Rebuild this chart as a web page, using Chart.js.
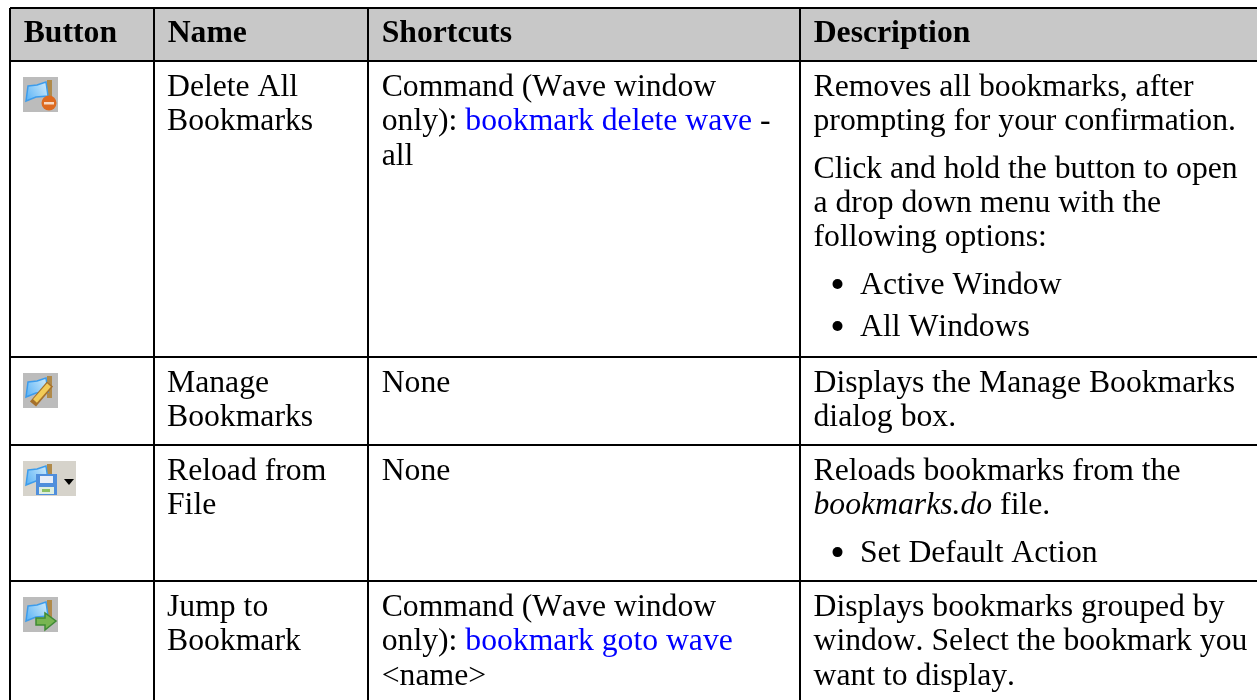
<!DOCTYPE html>
<html>
<head>
<meta charset="utf-8">
<title>Bookmark toolbar buttons</title>
<script src="https://cdn.jsdelivr.net/npm/chart.js@4/dist/chart.umd.js"></script>
<style>
  html, body { margin: 0; padding: 0; background: #fff; overflow: hidden; }
  canvas { display: block; }
</style>
</head>
<body>
<canvas id="table" width="1257" height="700"></canvas>
<script>
// table content. *x* = italic, [x] = link, "- " at line start = list item
var headers = ["Button", "Name", "Shortcuts", "Description"];
var icons = ["delete", "manage", "reload", "jump"];
var names = [
  ["Delete All", "Bookmarks"],
  ["Manage", "Bookmarks"],
  ["Reload from", "File"],
  ["Jump to", "Bookmark"]
];
var shortcuts = [
  ["Command (Wave window", "only): [bookmark delete wave] -", "all"],
  ["None"],
  ["None"],
  ["Command (Wave window", "only): [bookmark goto wave]", "<name>"]
];
var descriptions = [
  [["Removes all bookmarks, after", "prompting for your confirmation."],
   ["Click and hold the button to open", "a drop down menu with the", "following options:"],
   ["- Active Window"],
   ["- All Windows"]],
  [["Displays the Manage Bookmarks", "dialog box."]],
  [["Reloads bookmarks from the", "*bookmarks.do* file."],
   ["- Set Default Action"]],
  [["Displays bookmarks grouped by", "window. Select the bookmark you", "want to display."]]
];

// cell borders on the linear axes
var columnEdges = [0, 144, 358, 790];
var rowEdges = [0, 53, 349, 437, 573];
var tableWidth = 1247;
var tableHeight = 692;

var serif = '"Liberation Serif", "Times New Roman", serif';
var fontSize = 31.7;
var lineHeight = 34.3;

function drawRuns(ctx, line, x, y) {
  var parts = line.split(/(\*[^*]+\*|\[[^\]]+\])/);
  parts.forEach(function (part) {
    if (!part) return;
    var style = "", color = "#000", text = part;
    if (part[0] === "*") { style = "italic "; text = part.slice(1, -1); }
    if (part[0] === "[") { color = "#0000ff"; text = part.slice(1, -1); }
    ctx.font = style + fontSize + "px " + serif;
    ctx.fillStyle = color;
    ctx.fillText(text, x, y);
    x += ctx.measureText(text).width;
  });
}

function drawLines(ctx, lines, x, y) {
  lines.forEach(function (line, i) {
    drawRuns(ctx, line, x, y + i * lineHeight);
  });
}

function drawFlag(ctx, x, y) {
  // blue flag with brown pole, shared by all four icons
  ctx.fillStyle = "#b08a4a";
  ctx.fillRect(x + 24, y + 3, 5, 22);
  var g = ctx.createLinearGradient(x + 2, y + 20, x + 24, y + 6);
  g.addColorStop(0, "#5db4f6");
  g.addColorStop(1, "#cdeafb");
  ctx.beginPath();
  ctx.moveTo(x + 5, y + 9);
  ctx.lineTo(x + 14, y + 8);
  ctx.lineTo(x + 23, y + 5);
  ctx.lineTo(x + 25, y + 19);
  ctx.lineTo(x + 13, y + 20);
  ctx.lineTo(x + 3, y + 24);
  ctx.closePath();
  ctx.fillStyle = g;
  ctx.strokeStyle = "#3c9cec";
  ctx.lineWidth = 1.5;
  ctx.fill();
  ctx.stroke();
}

function drawIcon(ctx, kind, x, y) {
  var w = kind === "reload" ? 53 : 35;
  ctx.fillStyle = kind === "reload" ? "#d6d3cb" : "#bcbcbc";
  ctx.fillRect(x, y, w, 35);
  ctx.save();
  ctx.filter = "blur(0.7px)";
  drawFlag(ctx, x, y);
  if (kind === "delete") {
    ctx.beginPath();
    ctx.arc(x + 26, y + 26, 7.5, 0, Math.PI * 2);
    ctx.fillStyle = "#dd6a20";
    ctx.fill();
    ctx.fillStyle = "#f7d9c4";
    ctx.fillRect(x + 21, y + 25, 10, 2.5);
  }
  if (kind === "manage") {
    ctx.strokeStyle = "#a5702c";
    ctx.lineWidth = 8;
    ctx.beginPath();
    ctx.moveTo(x + 10, y + 31);
    ctx.lineTo(x + 27, y + 11);
    ctx.stroke();
    ctx.strokeStyle = "#f2cb58";
    ctx.lineWidth = 5;
    ctx.beginPath();
    ctx.moveTo(x + 12, y + 28);
    ctx.lineTo(x + 26, y + 12);
    ctx.stroke();
  }
  if (kind === "reload") {
    ctx.fillStyle = "#4f8edc";
    ctx.fillRect(x + 13, y + 13, 21, 21);
    ctx.fillStyle = "#e8eef8";
    ctx.fillRect(x + 17, y + 15, 13, 7);
    ctx.fillStyle = "#dfeee0";
    ctx.fillRect(x + 16, y + 26, 15, 7);
    ctx.fillStyle = "#8cc063";
    ctx.fillRect(x + 19, y + 28, 8, 3);
    ctx.fillStyle = "#000";
    ctx.beginPath();
    ctx.moveTo(x + 41, y + 18);
    ctx.lineTo(x + 51, y + 18);
    ctx.lineTo(x + 46, y + 24);
    ctx.closePath();
    ctx.fill();
  }
  if (kind === "jump") {
    ctx.fillStyle = "#78b552";
    ctx.strokeStyle = "#3f8a35";
    ctx.lineWidth = 1.5;
    ctx.beginPath();
    ctx.moveTo(x + 13, y + 21);
    ctx.lineTo(x + 22, y + 21);
    ctx.lineTo(x + 22, y + 16);
    ctx.lineTo(x + 33, y + 24);
    ctx.lineTo(x + 22, y + 33);
    ctx.lineTo(x + 22, y + 28);
    ctx.lineTo(x + 13, y + 28);
    ctx.closePath();
    ctx.fill();
    ctx.stroke();
  }
  ctx.restore();
}

var cellText = {
  id: "cellText",
  afterDraw: function (chart) {
    var ctx = chart.ctx, xs = chart.scales.x, ys = chart.scales.y;
    var colX = columnEdges.map(function (v) { return xs.getPixelForValue(v); });
    var rowY = rowEdges.map(function (v) { return ys.getPixelForValue(v); });
    ctx.save();
    ctx.textBaseline = "alphabetic";
    ctx.fontKerning = "none";

    ctx.fillStyle = "#000";
    ctx.font = "bold " + fontSize + "px " + serif;
    headers.forEach(function (h, c) {
      ctx.fillText(h, colX[c] + 13.7, rowY[0] + 33.5);
    });

    names.forEach(function (lines, r) {
      var top = rowY[r + 1];
      drawIcon(ctx, icons[r], colX[0] + 13, top + 16);
      drawLines(ctx, lines, colX[1] + 13, top + 35);
      drawLines(ctx, shortcuts[r], colX[2] + 13.7, top + 35);

      var y = top + 35;
      descriptions[r].forEach(function (para, p) {
        para.forEach(function (line, i) {
          if (line.indexOf("- ") === 0) {
            ctx.beginPath();
            ctx.arc(colX[3] + 37.5, y - 9.5, 5, 0, Math.PI * 2);
            ctx.fillStyle = "#000";
            ctx.fill();
            drawRuns(ctx, line.slice(2), colX[3] + 60, y);
          } else {
            drawRuns(ctx, line, colX[3] + 13.5, y);
          }
          y += lineHeight;
        });
        var next = descriptions[r][p + 1];
        if (next) {
          var bothList = para[0].indexOf("- ") === 0 && next[0].indexOf("- ") === 0;
          y += bothList ? 7.7 : 13;
        }
      });
    });
    ctx.restore();
  }
};

new Chart("table", {
  type: "scatter",
  data: {
    datasets: [{
      label: "Header",
      showLine: true,
      data: [{ x: 0, y: rowEdges[1] }, { x: tableWidth, y: rowEdges[1] }],
      fill: "end",
      backgroundColor: "#c8c8c8",
      borderWidth: 0,
      pointRadius: 0
    }]
  },
  plugins: [cellText],
  options: {
    responsive: false,
    animation: false,
    events: [],
    layout: { padding: { left: 10, top: 8, right: 0, bottom: 0 } },
    plugins: { legend: { display: false }, tooltip: { enabled: false } },
    scales: {
      x: {
        type: "linear",
        min: 0,
        max: tableWidth,
        afterBuildTicks: function (axis) {
          axis.ticks = columnEdges.map(function (v) { return { value: v }; });
        },
        ticks: { display: false },
        border: { display: false },
        grid: { color: "#000", lineWidth: 2, drawTicks: false, z: 1 }
      },
      y: {
        type: "linear",
        reverse: true,
        min: 0,
        max: tableHeight,
        afterBuildTicks: function (axis) {
          axis.ticks = rowEdges.map(function (v) { return { value: v }; });
        },
        ticks: { display: false },
        border: { display: false },
        grid: { color: "#000", lineWidth: 2, drawTicks: false, z: 1 }
      }
    }
  }
});
</script>
</body>
</html>
